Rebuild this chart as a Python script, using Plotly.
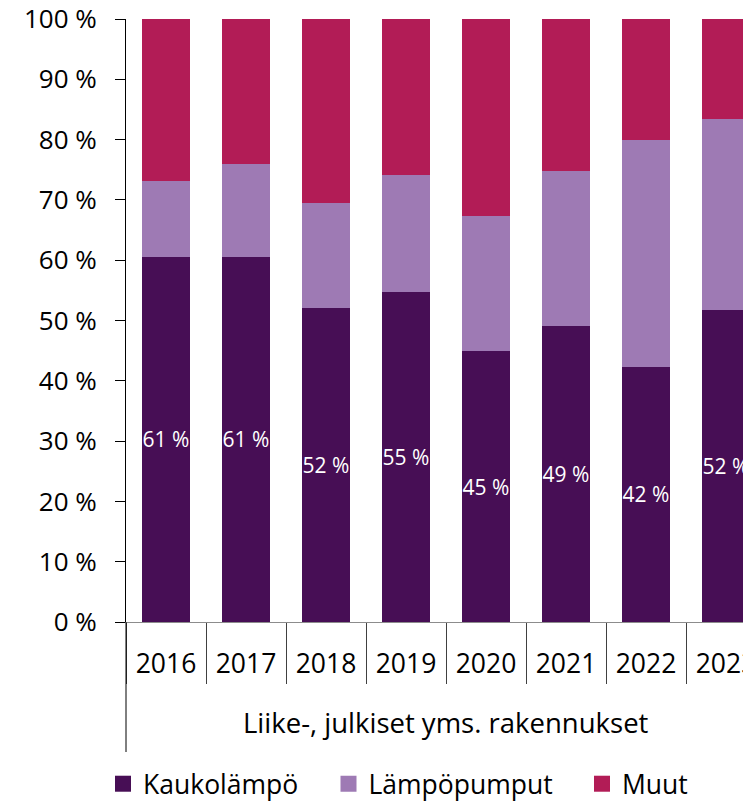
import plotly.graph_objects as go

years = ["2016", "2017", "2018", "2019", "2020", "2021", "2022", "2023"]
kaukolampo = [60.6, 60.6, 52.0, 54.8, 44.9, 49.1, 42.3, 51.7]
lampopumput = [12.5, 15.3, 17.5, 19.4, 22.4, 25.7, 37.7, 31.7]
muut = [26.9, 24.1, 30.5, 25.8, 32.7, 25.2, 20.0, 16.6]
series_names = ["Kaukolämpö", "Lämpöpumput", "Muut"]
group_label = "Liike-, julkiset yms. rakennukset"
y_ticks = [0, 10, 20, 30, 40, 50, 60, 70, 80, 90, 100]

FONT = "Open Sans"
COLORS = ["#470E55", "#9E7AB4", "#B21C56"]

fig = go.Figure()
fig.add_trace(go.Bar(
    name=series_names[0], x=years, y=kaukolampo, marker=dict(color=COLORS[0], line=dict(width=0)),
    texttemplate="%{y:.0f} %", textposition="inside", insidetextanchor="middle",
    textangle=0, constraintext="none",
    textfont=dict(family=FONT, size=21, color="white"), showlegend=False,
))
fig.add_trace(go.Bar(
    name=series_names[1], x=years, y=lampopumput, marker=dict(color=COLORS[1], line=dict(width=0)),
    showlegend=False,
))
fig.add_trace(go.Bar(
    name=series_names[2], x=years, y=muut, marker=dict(color=COLORS[2], line=dict(width=0)),
    showlegend=False,
))
# legend entries with larger square swatches, each in its own legend box
legend_ids = ["legend", "legend2", "legend3"]
for nm, col, lg in zip(series_names, COLORS, legend_ids):
    fig.add_trace(go.Scatter(
        x=[None], y=[None], mode="markers", name=nm, legend=lg,
        marker=dict(symbol="square", size=17, color=col), showlegend=True,
        hoverinfo="skip",
    ))

# the page body adds an 8 px offset; the figure is sized to fill the rest
W, H = 743, 793
PLOT_TOP = 11
PLOT_BOTTOM = 614
PLOT_H = PLOT_BOTTOM - PLOT_TOP
L = 118

def leg(xpx):
    return dict(
        orientation="h", xref="container", yref="container",
        x=xpx / W, y=1 - 776 / H, xanchor="left", yanchor="middle",
        font=dict(family=FONT, size=26.5, color="black"),
        itemsizing="trace", bgcolor="rgba(0,0,0,0)",
    )

fig.update_layout(
    width=W, height=H,
    margin=dict(l=L, r=0, t=PLOT_TOP, b=H - PLOT_BOTTOM, pad=0, autoexpand=False),
    barmode="stack", bargap=0.4,
    plot_bgcolor="white", paper_bgcolor="white",
    font=dict(family=FONT, size=26.5, color="black"),
    legend=leg(95), legend2=leg(320.5), legend3=leg(574),
    xaxis=dict(
        type="category", range=[-0.5, -0.5 + (W - L) / 80.0],
        showline=True, linecolor="#8C8C8C", linewidth=1.3,
        ticks="outside", tickson="boundaries", ticklen=61, tickcolor="#404040", tickwidth=1.3,
        ticklabelstandoff=18, automargin=False,
        tickfont=dict(family=FONT, size=26.5, color="black"),
        showgrid=False, zeroline=False, fixedrange=True,
    ),
    yaxis=dict(
        range=[0, 100], tickvals=y_ticks, ticktext=[f"{v} %" for v in y_ticks],
        showline=True, linecolor="black", linewidth=1,
        ticks="outside", ticklen=10, tickcolor="black", tickwidth=1,
        ticklabelstandoff=13, automargin=False, ticklabeloverflow="allow",
        tickfont=dict(family=FONT, size=26, color="black"),
        showgrid=False, zeroline=False, fixedrange=True,
    ),
)

fig.add_annotation(
    text=group_label, x=3.5, xref="x", y=-(714 - PLOT_BOTTOM) / PLOT_H, yref="paper",
    showarrow=False, xanchor="center", yanchor="middle",
    font=dict(family=FONT, size=27.5, color="black"),
)
fig.add_shape(
    type="line", xref="paper", yref="paper", x0=0, x1=0,
    y0=0, y1=-(744 - PLOT_BOTTOM) / PLOT_H, line=dict(color="black", width=1),
)

fig.write_html("out.html")
